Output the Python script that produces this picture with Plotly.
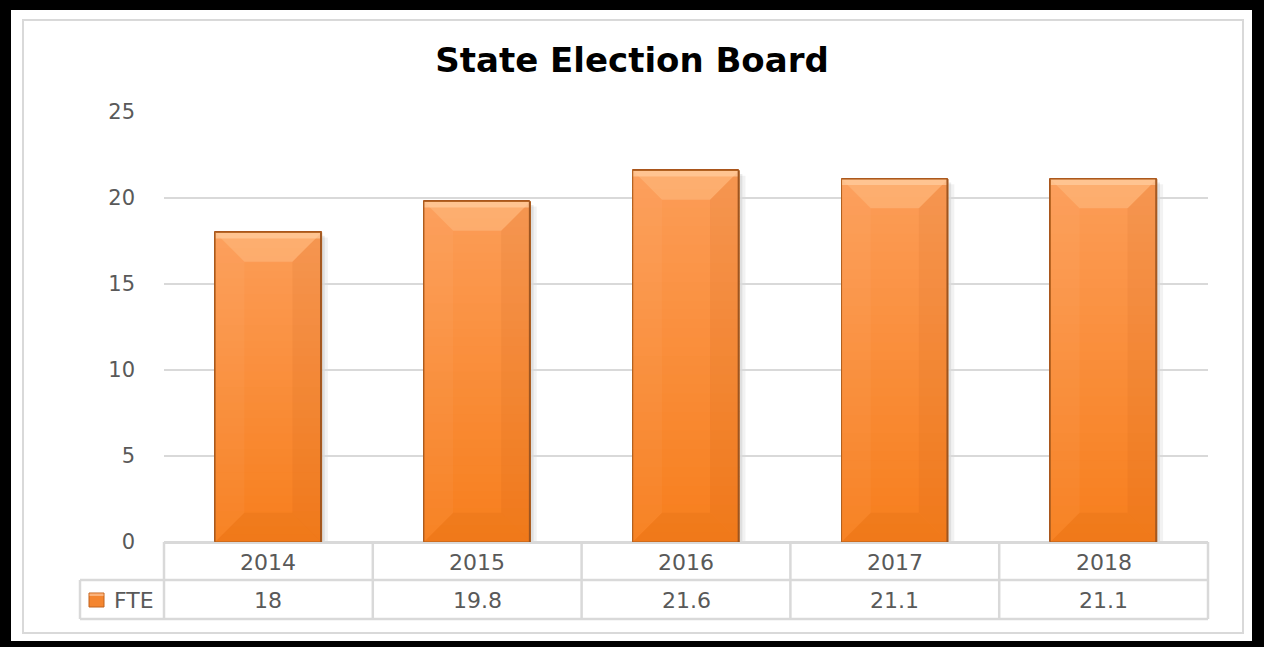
import plotly.graph_objects as go

# ---- data ----
years = ["2014", "2015", "2016", "2017", "2018"]
fte = [18, 19.8, 21.6, 21.1, 21.1]
series_name = "FTE"
y_tick_vals = [0, 5, 10, 15, 20, 25]
y_tick_text = ["0", "5", "10", "15", "20", "25"]
title_text = "State Election Board"

# ---- layout geometry (pixels) ----
W, H = 1264, 647
L, R, T, B = 164, 56, 112, 105
PW, PH = W - L - R, H - T - B


def px(x):
    return (x - L) / PW


def py(y):
    return (H - B - y) / PH


FONT = "DejaVu Sans"
GRID = "#D9D9D9"
TXT = "#595959"

xs = list(range(len(years)))
bar_w = 0.51
hx = bar_w / 2
bev_x = 0.14      # bevel depth in category units
bev_y = 1.7       # bevel depth in value units

fig = go.Figure()
fig.add_trace(go.Bar(
    x=xs, y=fte, width=bar_w, name=series_name, showlegend=False,
    marker=dict(color="#F98C3C", line=dict(color="#A9551C", width=1)),
    hoverinfo="x+y",
))


def mix(c0, c1, t):
    a = [int(c0[k:k + 2], 16) for k in (1, 3, 5)]
    b = [int(c1[k:k + 2], 16) for k in (1, 3, 5)]
    return "#" + "".join(f"{round(a[k] + (b[k] - a[k]) * t):02X}" for k in range(3))


BOT_C, TOP_C = "#F77E1C", "#FC9D58"
NB = 40

shapes = []
# outer frame: black paper, white card, light gray inner border
shapes.append(dict(type="rect", xref="paper", yref="paper", layer="below",
                   x0=px(11), x1=px(1252), y0=py(641), y1=py(10),
                   fillcolor="white", line=dict(width=0)))
shapes.append(dict(type="rect", xref="paper", yref="paper", layer="below",
                   x0=px(23), x1=px(1243), y0=py(633), y1=py(20),
                   fillcolor="rgba(0,0,0,0)", line=dict(color=GRID, width=2)))

for i, v in zip(xs, fte):
    x0, x1 = i - hx, i + hx
    # soft shadow on right
    shapes.append(dict(type="rect", xref="x", yref="y", layer="below",
                       x0=x1, x1=x1 + 0.03, y0=0, y1=v - 0.3,
                       fillcolor="rgba(0,0,0,0.05)", line=dict(width=0)))
    shapes.append(dict(type="rect", xref="x", yref="y", layer="below",
                       x0=x1, x1=x1 + 0.015, y0=0, y1=v - 0.2,
                       fillcolor="rgba(0,0,0,0.08)", line=dict(width=0)))
    # vertical gradient bands
    for j in range(NB):
        ya = v * j / NB
        yb = v * (j + 1) / NB + (0.05 if j < NB - 1 else 0)
        shapes.append(dict(type="rect", xref="x", yref="y", layer="above",
                           x0=x0, x1=x1, y0=ya, y1=yb,
                           fillcolor=mix(BOT_C, TOP_C, (j + 0.5) / NB), line=dict(width=0)))
    # right bevel (slightly darker)
    shapes.append(dict(type="path", xref="x", yref="y", layer="above",
                       path=f"M {x1},{0} L {x1},{v} L {x1-bev_x},{v-bev_y} L {x1-bev_x},{bev_y} Z",
                       fillcolor="rgba(150,60,0,0.07)", line=dict(width=0)))
    # left bevel (slightly lighter)
    shapes.append(dict(type="path", xref="x", yref="y", layer="above",
                       path=f"M {x0},{0} L {x0},{v} L {x0+bev_x},{v-bev_y} L {x0+bev_x},{bev_y} Z",
                       fillcolor="rgba(255,255,255,0.04)", line=dict(width=0)))
    # top bevel
    shapes.append(dict(type="path", xref="x", yref="y", layer="above",
                       path=f"M {x0},{v} L {x1},{v} L {x1-bev_x},{v-bev_y} L {x0+bev_x},{v-bev_y} Z",
                       fillcolor="rgba(255,215,170,0.30)", line=dict(width=0)))
    # bottom bevel
    shapes.append(dict(type="path", xref="x", yref="y", layer="above",
                       path=f"M {x0},{0} L {x1},{0} L {x1-bev_x},{bev_y} L {x0+bev_x},{bev_y} Z",
                       fillcolor="rgba(190,80,0,0.10)", line=dict(width=0)))
    # top highlight
    shapes.append(dict(type="rect", xref="x", yref="y", layer="above",
                       x0=x0, x1=x1, y0=v - 0.35, y1=v,
                       fillcolor="rgba(255,205,160,0.7)", line=dict(width=0)))
    # outline
    shapes.append(dict(type="rect", xref="x", yref="y", layer="above",
                       x0=x0, x1=x1, y0=0, y1=v,
                       fillcolor="rgba(0,0,0,0)", line=dict(color="#B0601F", width=1)))
    # darker right edge
    shapes.append(dict(type="line", xref="x", yref="y", layer="above",
                       x0=x1 - 0.004, x1=x1 - 0.004, y0=0, y1=v,
                       line=dict(color="#9C5420", width=1.5)))

# data table grid
n = len(years)
for k in range(n + 1):
    shapes.append(dict(type="line", xref="paper", yref="paper",
                       x0=k / n, x1=k / n, y0=py(542), y1=py(619),
                       line=dict(color=GRID, width=2.5)))
for yy in (580, 619):
    shapes.append(dict(type="line", xref="paper", yref="paper",
                       x0=px(80), x1=1, y0=py(yy), y1=py(yy),
                       line=dict(color=GRID, width=2.5)))
shapes.append(dict(type="line", xref="paper", yref="paper",
                   x0=px(80), x1=px(80), y0=py(580), y1=py(619),
                   line=dict(color=GRID, width=2.5)))
# legend key
shapes.append(dict(type="rect", xref="paper", yref="paper",
                   x0=px(89), x1=px(104), y0=py(607), y1=py(593),
                   fillcolor="#F4852F", line=dict(color="#C0621E", width=1)))
shapes.append(dict(type="rect", xref="paper", yref="paper",
                   x0=px(89.5), x1=px(103.5), y0=py(596), y1=py(593.5),
                   fillcolor="#FBB37C", line=dict(width=0)))

annotations = []
for i, (yr, v) in enumerate(zip(years, fte)):
    annotations.append(dict(x=i, xref="x", y=py(562), yref="paper", text=yr,
                            showarrow=False, xanchor="center", yanchor="middle",
                            font=dict(family=FONT, size=22, color=TXT)))
    annotations.append(dict(x=i, xref="x", y=py(600), yref="paper", text=f"{v:g}",
                            showarrow=False, xanchor="center", yanchor="middle",
                            font=dict(family=FONT, size=22, color=TXT)))
annotations.append(dict(x=px(112), xref="paper", y=py(600), yref="paper", text=series_name,
                        showarrow=False, xanchor="left", yanchor="middle",
                        font=dict(family=FONT, size=22, color=TXT)))

fig.update_layout(
    template="none",
    width=W, height=H,
    margin=dict(l=L, r=R, t=T, b=B, pad=0),
    paper_bgcolor="black",
    plot_bgcolor="white",
    showlegend=False,
    bargap=0,
    title=dict(text=f"<b>{title_text}</b>", x=0.5, xref="container", xanchor="center",
               y=1 - 60 / H, yref="container", yanchor="middle",
               font=dict(family=FONT, size=34, color="black")),
    xaxis=dict(range=[-0.5, n - 0.5], showgrid=False, zeroline=False, showline=False,
               showticklabels=False, ticks="", automargin=False, fixedrange=True),
    yaxis=dict(range=[0, 25], tickvals=y_tick_vals, ticktext=y_tick_text,
               showgrid=True, gridcolor=GRID, gridwidth=2,
               zeroline=True, zerolinecolor=GRID, zerolinewidth=2.5,
               showline=False, ticks="", ticklabelstandoff=28,
               tickfont=dict(family=FONT, size=21, color=TXT),
               automargin=False, fixedrange=True),
    shapes=shapes,
    annotations=annotations,
)

fig.write_html("out.html", config={"displayModeBar": False})
